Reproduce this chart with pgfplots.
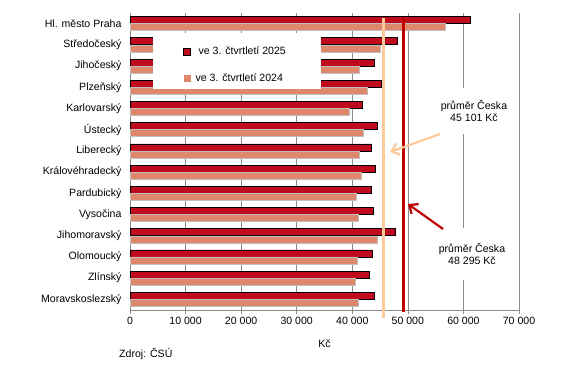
\documentclass[border=0pt]{standalone}
\usepackage{fontspec}
\setmainfont{Liberation Sans}
\usepackage{pgfplots}
\pgfplotsset{compat=1.18}
\usetikzlibrary{arrows.meta}
\definecolor{dkred}{HTML}{C00A1E}
\definecolor{salmon}{HTML}{DE876D}
\definecolor{peach}{HTML}{FFC99A}
\definecolor{avgred}{HTML}{C00000}
\definecolor{gridc}{HTML}{8C8C8C}
\begin{document}
\begin{tikzpicture}[font=\fontsize{10.6}{12.5}\selectfont]
\path[use as bounding box] (0,0) rectangle (561bp,-375bp);
\begin{axis}[
  at={(130bp,-310bp)}, anchor=south west,
  scale only axis, width=389bp, height=297bp,
  xmin=0, xmax=70000, ymin=-0.5, ymax=13.5, y dir=reverse,
  xtick={0,10000,...,70000},
  ytick={0,...,13},
  yticklabels={Hl. město Praha,Středočeský,Jihočeský,Plzeňský,Karlovarský,Ústecký,Liberecký,Královéhradecký,Pardubický,Vysočina,Jihomoravský,Olomoucký,Zlínský,Moravskoslezský},
  y tick label style={xshift=-1bp},
  scaled x ticks=false,
  x tick label style={/pgf/number format/.cd, 1000 sep={\ }, assume math mode=true},
  xmajorgrids, grid style={gridc, line width=0.6bp},
  axis x line*=bottom, axis y line*=left,
  axis line style={gridc, line width=0.6bp},
  x axis line style={-}, y axis line style={-},
  xtick style={gridc, line width=0.6bp}, ytick style={draw=none},
  tick align=outside, major tick length=4bp,
  xlabel={Kč},
  xlabel style={yshift=-8bp},
  clip=false,
  legend style={at={(axis cs:9500,1.0)}, anchor=north west, fill=none, draw=none, row sep=13bp, inner sep=0pt, font=\fontsize{10.6}{12.5}\selectfont},
  legend cell align=left,
]
\addplot[xbar, bar width=7bp, bar shift=3.5bp, fill=dkred, draw=black, line width=0.7bp,
  legend image code/.code={\draw[fill=dkred, draw=black, line width=0.7bp] (0bp,-3.5bp) rectangle (7bp,3.5bp);}]
  coordinates {(61200,0) (48080,1) (43940,2) (45320,3) (41780,4) (44480,5) (43400,6) (44180,7) (43400,8) (43760,9) (47720,10) (43580,11) (43040,12) (44000,13)};
\addlegendentry{\ \ ve 3. čtvrtletí 2025}
\addplot[xbar, bar width=7bp, bar shift=-3.5bp, fill=salmon, draw=gray!50, line width=0.5bp,
  legend image code/.code={\fill[salmon] (1bp,-3bp) rectangle (7bp,3bp);}]
  coordinates {(56700,0) (44960,1) (41240,2) (42680,3) (39390,4) (41970,5) (41240,6) (41610,7) (40700,8) (41010,9) (44480,10) (40890,11) (40530,12) (41010,13)};
\addlegendentry{\ ve 3. čtvrtletí 2024}
\addplot[peach, line width=3bp, forget plot] coordinates {(45700,-0.27) (45700,13.9)};
\addplot[avgred, line width=2.5bp, forget plot] coordinates {(49250,-0.27) (49250,13.6)};
\fill[white] (axis cs:4140,0.443) rectangle (axis cs:34370,3.08);
\end{axis}
\begin{scope}[x=1bp,y=-1bp]
\node[fill=white, align=center, inner sep=0pt, minimum height=45bp, minimum width=4bp] at (474,111) {průměr Česka\\45 101 Kč};
\node[fill=white, align=center, inner sep=0pt, minimum height=52bp, minimum width=4bp] at (472,254) {průměr Česka\\48 295 Kč};
\draw[peach, line width=2.2bp, -{Straight Barb[length=7bp,width=12bp]}] (440,134) -- (390,152);
\draw[avgred, line width=2.2bp, -{Straight Barb[length=7bp,width=12bp]}] (443,229) -- (408,204);
\node[anchor=west, inner sep=0pt] at (119,354) {Zdroj: ČSÚ};
\end{scope}
\end{tikzpicture}
\end{document}
